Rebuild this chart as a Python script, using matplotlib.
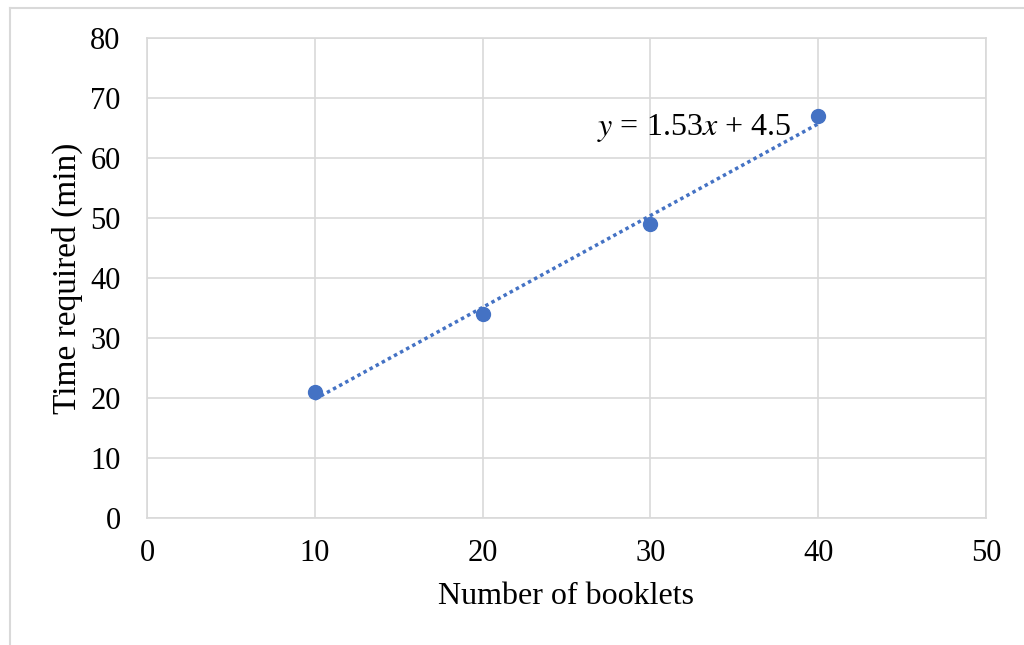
import numpy as np
import matplotlib.pyplot as plt
from matplotlib.lines import Line2D

# data
booklets = [10, 20, 30, 40]
minutes = [21, 34, 49, 67]

x_ticks = [0, 10, 20, 30, 40, 50]
y_ticks = [0, 10, 20, 30, 40, 50, 60, 70, 80]

blue = "#4472C4"
grid_grey = "#d9d9d9"

plt.rcParams["font.family"] = ["Liberation Serif", "DejaVu Serif"]
plt.rcParams["mathtext.fontset"] = "stix"

fig = plt.figure(figsize=(10.24, 6.45), dpi=100)
ax = fig.add_axes([147 / 1024, 1 - 518 / 645, 839 / 1024, 480 / 645])

# linear trendline (least squares, like Excel)
slope, intercept = np.polyfit(booklets, minutes, 1)
tx = np.array([min(booklets), max(booklets)])
ax.plot(tx, slope * tx + intercept, linestyle=(0, (1, 1)), color=blue,
        linewidth=2.5, zorder=3)
ax.plot(booklets, minutes, "o", color=blue, markersize=10, zorder=4)

ax.text(32.6, 65.0, f"$y$ = {slope:.2f}$x$ + {intercept:.1f}",
        fontsize=23, ha="center", va="center", zorder=5)

ax.set_xlim(0, 50)
ax.set_ylim(0, 80)
ax.set_xticks(x_ticks)
ax.set_yticks(y_ticks)
ax.tick_params(length=0, labelsize=22)
ax.tick_params(axis="x", pad=15)
ax.tick_params(axis="y", pad=19)
ax.grid(True, color=grid_grey, linewidth=1.2)
ax.set_axisbelow(True)
for s in ax.spines.values():
    s.set_color(grid_grey)
    s.set_linewidth(1.2)

ax.set_xlabel("Number of booklets", fontsize=23, labelpad=10)
ax.set_ylabel("Time required (min)", fontsize=24, labelpad=5)

# outer chart border (top and left visible)
fig.add_artist(Line2D([10 / 1024, 10 / 1024], [0, 1 - 8 / 645],
                      color=grid_grey, linewidth=1.5, transform=fig.transFigure))
fig.add_artist(Line2D([10 / 1024, 1], [1 - 8 / 645, 1 - 8 / 645],
                      color=grid_grey, linewidth=1.5, transform=fig.transFigure))

fig.savefig("out.png", dpi=100)
